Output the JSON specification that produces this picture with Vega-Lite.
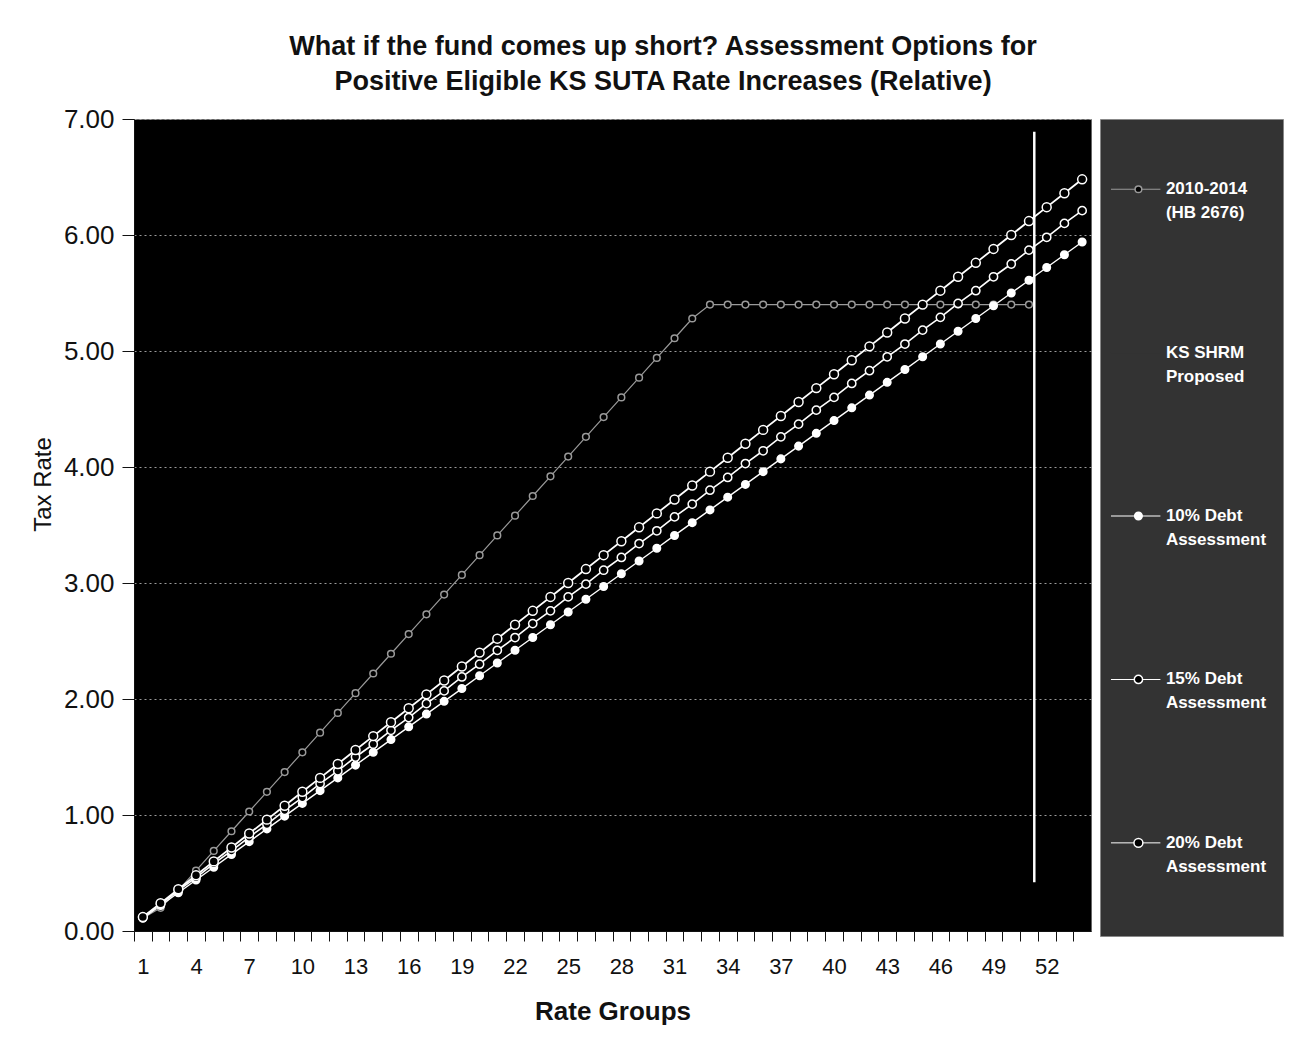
{
  "$schema": "https://vega.github.io/schema/vega-lite/v6.json",
  "background": "white",
  "padding": {"left": 30, "top": 32, "right": 10, "bottom": 10},
  "config": {"font": "Liberation Sans"},
  "title": {
    "text": ["What if the fund comes up short?  Assessment Options for", "Positive Eligible KS SUTA Rate Increases (Relative)"],
    "fontSize": 27, "font": "Liberation Sans", "fontWeight": "bold", "color": "#111",
    "lineHeight": 35, "anchor": "middle", "offset": 10, "dx": 6
  },
  "datasets": {
    "rates": [
      {"g":1,"hb":0.11,"d10":0.11,"d15":0.12,"d20":0.12},
      {"g":2,"hb":0.20,"d10":0.22,"d15":0.23,"d20":0.24},
      {"g":3,"hb":0.35,"d10":0.33,"d15":0.35,"d20":0.36},
      {"g":4,"hb":0.52,"d10":0.44,"d15":0.46,"d20":0.48},
      {"g":5,"hb":0.69,"d10":0.55,"d15":0.58,"d20":0.60},
      {"g":6,"hb":0.86,"d10":0.66,"d15":0.69,"d20":0.72},
      {"g":7,"hb":1.03,"d10":0.77,"d15":0.81,"d20":0.84},
      {"g":8,"hb":1.20,"d10":0.88,"d15":0.92,"d20":0.96},
      {"g":9,"hb":1.37,"d10":0.99,"d15":1.04,"d20":1.08},
      {"g":10,"hb":1.54,"d10":1.10,"d15":1.15,"d20":1.20},
      {"g":11,"hb":1.71,"d10":1.21,"d15":1.27,"d20":1.32},
      {"g":12,"hb":1.88,"d10":1.32,"d15":1.38,"d20":1.44},
      {"g":13,"hb":2.05,"d10":1.43,"d15":1.50,"d20":1.56},
      {"g":14,"hb":2.22,"d10":1.54,"d15":1.61,"d20":1.68},
      {"g":15,"hb":2.39,"d10":1.65,"d15":1.73,"d20":1.80},
      {"g":16,"hb":2.56,"d10":1.76,"d15":1.84,"d20":1.92},
      {"g":17,"hb":2.73,"d10":1.87,"d15":1.96,"d20":2.04},
      {"g":18,"hb":2.90,"d10":1.98,"d15":2.07,"d20":2.16},
      {"g":19,"hb":3.07,"d10":2.09,"d15":2.19,"d20":2.28},
      {"g":20,"hb":3.24,"d10":2.20,"d15":2.30,"d20":2.40},
      {"g":21,"hb":3.41,"d10":2.31,"d15":2.42,"d20":2.52},
      {"g":22,"hb":3.58,"d10":2.42,"d15":2.53,"d20":2.64},
      {"g":23,"hb":3.75,"d10":2.53,"d15":2.65,"d20":2.76},
      {"g":24,"hb":3.92,"d10":2.64,"d15":2.76,"d20":2.88},
      {"g":25,"hb":4.09,"d10":2.75,"d15":2.88,"d20":3.00},
      {"g":26,"hb":4.26,"d10":2.86,"d15":2.99,"d20":3.12},
      {"g":27,"hb":4.43,"d10":2.97,"d15":3.11,"d20":3.24},
      {"g":28,"hb":4.60,"d10":3.08,"d15":3.22,"d20":3.36},
      {"g":29,"hb":4.77,"d10":3.19,"d15":3.34,"d20":3.48},
      {"g":30,"hb":4.94,"d10":3.30,"d15":3.45,"d20":3.60},
      {"g":31,"hb":5.11,"d10":3.41,"d15":3.57,"d20":3.72},
      {"g":32,"hb":5.28,"d10":3.52,"d15":3.68,"d20":3.84},
      {"g":33,"hb":5.40,"d10":3.63,"d15":3.80,"d20":3.96},
      {"g":34,"hb":5.40,"d10":3.74,"d15":3.91,"d20":4.08},
      {"g":35,"hb":5.40,"d10":3.85,"d15":4.03,"d20":4.20},
      {"g":36,"hb":5.40,"d10":3.96,"d15":4.14,"d20":4.32},
      {"g":37,"hb":5.40,"d10":4.07,"d15":4.26,"d20":4.44},
      {"g":38,"hb":5.40,"d10":4.18,"d15":4.37,"d20":4.56},
      {"g":39,"hb":5.40,"d10":4.29,"d15":4.49,"d20":4.68},
      {"g":40,"hb":5.40,"d10":4.40,"d15":4.60,"d20":4.80},
      {"g":41,"hb":5.40,"d10":4.51,"d15":4.72,"d20":4.92},
      {"g":42,"hb":5.40,"d10":4.62,"d15":4.83,"d20":5.04},
      {"g":43,"hb":5.40,"d10":4.73,"d15":4.95,"d20":5.16},
      {"g":44,"hb":5.40,"d10":4.84,"d15":5.06,"d20":5.28},
      {"g":45,"hb":5.40,"d10":4.95,"d15":5.18,"d20":5.40},
      {"g":46,"hb":5.40,"d10":5.06,"d15":5.29,"d20":5.52},
      {"g":47,"hb":5.40,"d10":5.17,"d15":5.41,"d20":5.64},
      {"g":48,"hb":5.40,"d10":5.28,"d15":5.52,"d20":5.76},
      {"g":49,"hb":5.40,"d10":5.39,"d15":5.64,"d20":5.88},
      {"g":50,"hb":5.40,"d10":5.50,"d15":5.75,"d20":6.00},
      {"g":51,"hb":5.40,"d10":5.61,"d15":5.87,"d20":6.12},
      {"g":52,"d10":5.72,"d15":5.98,"d20":6.24},
      {"g":53,"d10":5.83,"d15":6.10,"d20":6.36},
      {"g":54,"d10":5.94,"d15":6.21,"d20":6.48}
    ],
    "shrm": [{"g": 51.3, "low": 0.42, "high": 6.89}],
    "legend": [
      {"k": "hb", "name": "2010-2014|(HB 2676)"},
      {"k": "shrm", "name": "KS SHRM|Proposed"},
      {"k": "d10", "name": "10% Debt|Assessment"},
      {"k": "d15", "name": "15% Debt|Assessment"},
      {"k": "d20", "name": "20% Debt|Assessment"}
    ]
  },
  "resolve": {"scale": {"x": "independent", "y": "independent", "color": "independent", "fill": "independent", "stroke": "independent", "size": "independent", "strokeWidth": "independent"}},
  "spacing": 7,
  "hconcat": [
    {
      "width": 957,
      "height": 812,
      "view": {"fill": "#000000", "stroke": "#666666"},
      "layer": [
        {
          "data": {"name": "rates"},
          "transform": [{"fold": ["hb", "d10", "d15", "d20"], "as": ["series", "rate"]}, {"filter": "isValid(datum.rate)"}],
          "mark": {"type": "line"},
          "encoding": {
            "x": {
              "field": "g", "type": "quantitative",
              "scale": {"domain": [0.5, 54.5], "nice": false, "zero": false},
              "axis": {
                "title": "Rate Groups",
                "values": [1,2,3,4,5,6,7,8,9,10,11,12,13,14,15,16,17,18,19,20,21,22,23,24,25,26,27,28,29,30,31,32,33,34,35,36,37,38,39,40,41,42,43,44,45,46,47,48,49,50,51,52,53,54],
                "tickCount": 200, "format": "d",
                "tickOffset": -8.86, "labelOffset": 8.86,
                "labelExpr": "(datum.value - 1) % 3 == 0 ? datum.label : ''",
                "labelOverlap": false, "labelFlush": false, "grid": false,
                "tickSize": 10, "tickColor": "#111", "domainColor": "#111",
                "labelFontSize": 22, "labelColor": "#111", "labelPadding": 15,
                "titleFontSize": 26, "titleFontWeight": "bold", "titleColor": "#111", "titlePadding": 21
              }
            },
            "y": {
              "field": "rate", "type": "quantitative",
              "scale": {"domain": [0, 7], "nice": false},
              "axis": {
                "title": "Tax Rate", "values": [0,1,2,3,4,5,6,7], "format": ".2f",
                "grid": true, "gridColor": "#9a9a9a", "gridDash": [2, 3], "gridWidth": 1,
                "tickSize": 12, "tickColor": "#111", "domainColor": "#111",
                "labelFontSize": 26, "labelPadding": 8, "labelColor": "#111",
                "titleFontSize": 24, "titleFontWeight": "normal", "titleColor": "#111",
                "titleX": -79, "titleY": 365, "titleAnchor": "middle"
              }
            },
            "color": {"field": "series", "type": "nominal", "scale": {"domain": ["hb", "d10", "d15", "d20"], "range": ["#9a9a9a", "#ffffff", "#ffffff", "#ffffff"]}, "legend": null},
            "strokeWidth": {"field": "series", "type": "nominal", "scale": {"domain": ["hb", "d10", "d15", "d20"], "range": [1.2, 1.8, 1.5, 1.5]}, "legend": null}
          }
        },
        {
          "data": {"name": "rates"},
          "transform": [{"fold": ["hb", "d10", "d15", "d20"], "as": ["series", "rate"]}, {"filter": "isValid(datum.rate)"}],
          "mark": {"type": "point", "filled": true, "shape": "circle", "strokeWidth": 1.5, "opacity": 1},
          "encoding": {
            "x": {"field": "g", "type": "quantitative"},
            "y": {"field": "rate", "type": "quantitative"},
            "fill": {"field": "series", "type": "nominal", "scale": {"domain": ["hb", "d10", "d15", "d20"], "range": ["#000000", "#ffffff", "#000000", "#000000"]}, "legend": null},
            "stroke": {"field": "series", "type": "nominal", "scale": {"domain": ["hb", "d10", "d15", "d20"], "range": ["#9a9a9a", "#ffffff", "#ffffff", "#ffffff"]}, "legend": null},
            "size": {"field": "series", "type": "nominal", "scale": {"domain": ["hb", "d10", "d15", "d20"], "range": [45, 80, 60, 60]}, "legend": null}
          }
        },
        {
          "data": {"name": "shrm"},
          "mark": {"type": "rule", "color": "#ffffff", "strokeWidth": 2.5},
          "encoding": {
            "x": {"field": "g", "type": "quantitative"},
            "y": {"field": "low", "type": "quantitative"},
            "y2": {"field": "high"}
          }
        }
      ]
    },
    {
      "width": 183,
      "height": 817,
      "view": {"fill": "#333333", "stroke": "#888888"},
      "data": {"name": "legend"},
      "encoding": {
        "y": {"field": "k", "type": "nominal", "scale": {"type": "point", "domain": ["hb", "shrm", "d10", "d15", "d20"], "padding": 0.5, "align": 0.43}, "axis": null}
      },
      "layer": [
        {
          "mark": {"type": "rule"},
          "encoding": {
            "x": {"datum": 0.06, "type": "quantitative", "scale": {"domain": [0, 1], "nice": false}, "axis": null},
            "x2": {"datum": 0.33},
            "color": {"field": "k", "type": "nominal", "scale": {"domain": ["hb", "shrm", "d10", "d15", "d20"], "range": ["#9a9a9a", "#333333", "#ffffff", "#ffffff", "#ffffff"]}, "legend": null},
            "strokeWidth": {"field": "k", "type": "nominal", "scale": {"domain": ["hb", "shrm", "d10", "d15", "d20"], "range": [1.2, 1, 1.8, 1.5, 1.5]}, "legend": null}
          }
        },
        {
          "transform": [{"filter": "datum.k != 'shrm'"}],
          "mark": {"type": "point", "filled": true, "shape": "circle", "strokeWidth": 1.5, "opacity": 1},
          "encoding": {
            "x": {"datum": 0.21, "type": "quantitative"},
            "fill": {"field": "k", "type": "nominal", "scale": {"domain": ["hb", "d10", "d15", "d20"], "range": ["#000000", "#ffffff", "#000000", "#000000"]}, "legend": null},
            "stroke": {"field": "k", "type": "nominal", "scale": {"domain": ["hb", "d10", "d15", "d20"], "range": ["#9a9a9a", "#ffffff", "#ffffff", "#ffffff"]}, "legend": null},
            "size": {"field": "k", "type": "nominal", "scale": {"domain": ["hb", "d10", "d15", "d20"], "range": [45, 80, 60, 60]}, "legend": null}
          }
        },
        {
          "mark": {"type": "text", "align": "left", "baseline": "middle", "lineBreak": "|", "color": "#ffffff", "fontSize": 17, "fontWeight": "bold", "lineHeight": 24},
          "encoding": {
            "x": {"datum": 0.36, "type": "quantitative"},
            "text": {"field": "name", "type": "nominal"}
          }
        }
      ]
    }
  ]
}
